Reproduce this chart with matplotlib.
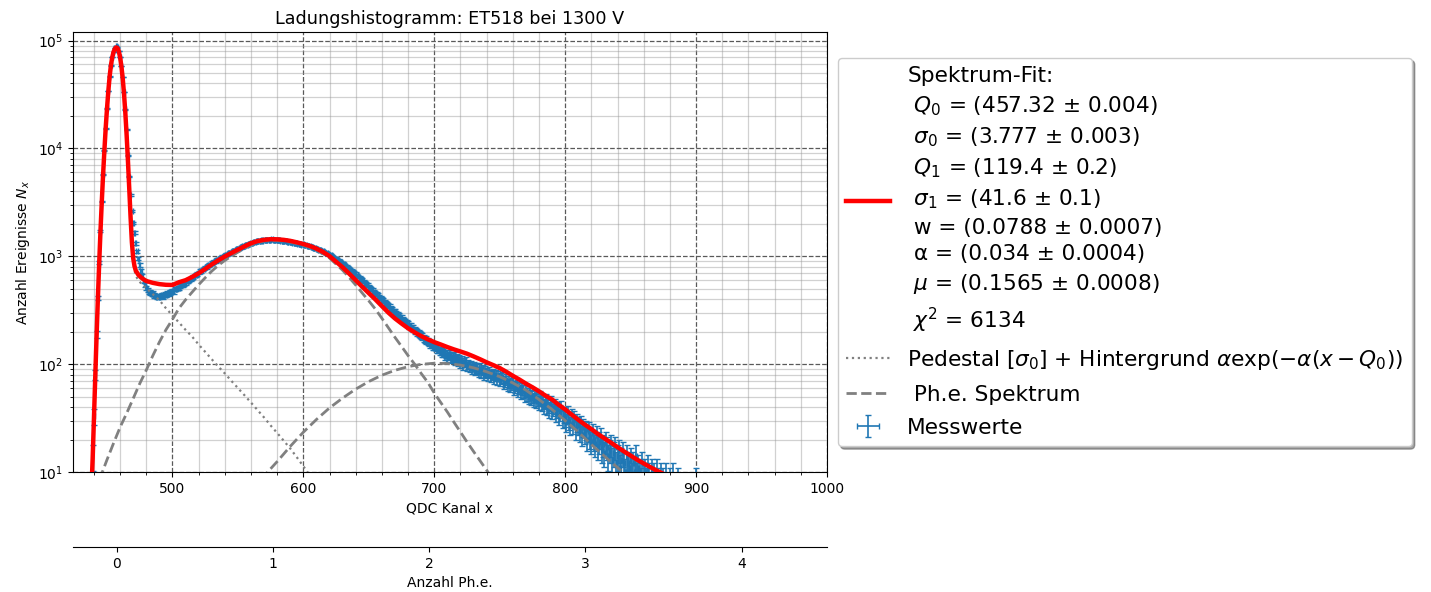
import matplotlib

matplotlib.use("Agg")
import matplotlib.pyplot as plt
import numpy as np
from matplotlib.ticker import MultipleLocator

OUT_PNG = "out.png"

# fit results used for the photo-electron axis
Q0 = 457.32
Q1 = 119.4

# measured histogram, one bin per QDC channel starting at FIRST_CHANNEL
FIRST_CHANNEL = 438
COUNTS = [
    5, 14, 33, 80, 190, 410, 870, 1720, 3230, 5750,
    9650, 15400, 23600, 34100, 46300, 58900, 70100, 78800, 85500, 88400,
    86300, 79800, 70600, 58400, 45700, 33500, 23100, 14900, 8600, 5450,
    3720, 2610, 2040, 1660, 1320, 1110, 945, 832, 728, 655,
    590, 548, 512, 488, 470, 461, 447, 452, 433, 428,
    420, 431, 418, 427, 436, 425, 441, 437, 452, 448,
    463, 470, 478, 472, 495, 501, 510, 506, 528, 540,
    548, 556, 571, 584, 590, 607, 619, 632, 641, 662,
    670, 688, 705, 734, 731, 752, 768, 790, 795, 818,
    832, 841, 866, 872, 897, 905, 931, 942, 950, 973,
    990, 1001, 1012, 1036, 1040, 1068, 1082, 1097, 1109, 1131,
    1140, 1163, 1175, 1190, 1212, 1220, 1241, 1255, 1262, 1286,
    1295, 1311, 1328, 1334, 1350, 1361, 1372, 1379, 1392, 1388,
    1405, 1397, 1416, 1421, 1412, 1430, 1419, 1426, 1433, 1415,
    1424, 1407, 1418, 1402, 1409, 1396, 1391, 1388, 1372, 1381,
    1366, 1358, 1361, 1345, 1340, 1329, 1334, 1318, 1305, 1311,
    1293, 1286, 1290, 1271, 1262, 1255, 1248, 1236, 1228, 1210,
    1203, 1190, 1178, 1169, 1151, 1140, 1127, 1108, 1095, 1082,
    1064, 1051, 1030, 1017, 1001, 985, 962, 948, 929, 915,
    893, 877, 856, 841, 822, 801, 787, 765, 752, 731,
    716, 697, 684, 664, 651, 628, 617, 601, 584, 570,
    553, 540, 521, 510, 497, 481, 470, 455, 446, 432,
    420, 412, 398, 389, 376, 366, 358, 347, 339, 327,
    321, 310, 304, 296, 287, 279, 272, 268, 259, 253,
    246, 240, 236, 228, 224, 217, 214, 206, 203, 197,
    192, 189, 183, 180, 174, 171, 168, 162, 160, 155,
    153, 148, 147, 143, 140, 138, 134, 133, 129, 127,
    121, 125, 116, 119, 123, 112, 115, 118, 109, 113,
    106, 111, 103, 108, 99, 104, 107, 96, 100, 94,
    98, 91, 96, 88, 93, 90, 85, 92, 84, 88,
    81, 86, 83, 79, 85, 77, 80, 82, 74, 79,
    73, 78, 71, 74, 76, 67, 70, 72, 65, 69,
    63, 66, 68, 60, 62, 64, 57, 61, 55, 59,
    56, 52, 57, 53, 50, 55, 49, 51, 47, 52,
    46, 48, 44, 49, 43, 45, 41, 46, 40, 42,
    38, 44, 37, 39, 41, 35, 38, 33, 36, 39,
    31, 34, 32, 29, 35, 30, 27, 33, 28, 31,
    25, 29, 27, 24, 28, 22, 26, 23, 25, 20,
    24, 21, 19, 23, 20, 18, 22, 17, 19, 21,
    16, 18, 15, 19, 17, 14, 16, 18, 13, 15,
    17, 12, 14, 16, 11, 13, 15, 12, 10, 14,
    12, 11, 13, 9, 12, 10, 14, 9, 11, 10,
    8, 12, 9, 10, 8, 11, 9, 7, 10, 8,
    9, 7, 10, 8, 6, 9, 7, 8, 6, 9,
    7, 5, 8, 6, 9, 5, 7, 6, 8, 5,
    7, 4, 6, 5, 7, 4, 5, 6, 3, 5,
    4, 6, 8, 4, 5, 3,
]

# full spectrum fit
FIT_X = list(range(437, 473)) + [474, 476, 478] + list(range(480, 890, 5))
FIT_Y = [
    4, 6.5, 13, 31, 75, 178, 400, 850, 1700, 3200,
    5700, 9600, 15500, 23500, 34000, 46500, 59000, 70000, 78500, 84000,
    86500, 85200, 79500, 70000, 57500, 44500, 32000, 21300, 13200, 7600,
    4200, 2300, 1350, 960, 810, 735,
    672, 637, 610,
    590, 567, 552, 544, 542,
    575, 600, 643, 696, 763, 840, 918, 997, 1072, 1153,
    1237, 1322, 1384, 1422, 1440, 1436, 1420, 1390, 1347, 1300,
    1246, 1178, 1097, 1003, 890, 790, 690, 600, 521, 455,
    398, 345, 300, 265, 238, 215, 197, 182, 170, 160,
    152, 144, 137, 131, 125, 118, 111, 104, 98, 92,
    85, 78, 72, 66, 61, 56, 51, 47, 42, 38,
    34, 30.5, 27.5, 25, 22.5, 20.5, 18.7, 17, 15.5, 14.2,
    13, 12, 11.1, 10.3, 9.6, 8.9, 8.3,
]

# pedestal gaussian plus exponential background
PED_X = list(range(437, 473)) + [474, 476, 478] + list(range(480, 615, 5))
PED_Y = [
    4, 6.5, 13, 31, 75, 178, 400, 850, 1700, 3200,
    5700, 9600, 15500, 23500, 34000, 46500, 59000, 70000, 78500, 84000,
    86500, 85200, 79500, 70000, 57500, 44500, 32000, 21300, 13200, 7560,
    4150, 2250, 1290, 900, 740, 660,
    595, 562, 533,
    505, 445, 392, 330, 283, 243, 208, 180, 152, 130,
    111, 95, 82, 70, 60, 51.5, 44, 37.5, 32, 27,
    23, 19.5, 16.5, 13.7, 11.3, 9.3, 7.7,
]

# single and double photo-electron peaks
PE1_X = list(range(440, 760, 5))
PE1_Y = [
    6.3, 9, 13, 18.5, 26, 35, 48, 66, 88, 120,
    160, 208, 260, 330, 395, 465, 545, 632, 728, 823,
    915, 1002, 1093, 1186, 1274, 1340, 1384, 1405, 1400, 1385,
    1355, 1312, 1265, 1210, 1140, 1060, 962, 846, 742, 636,
    541, 456, 386, 324, 266, 217, 177, 146, 120, 100,
    82, 68, 54, 44, 36, 29, 23.5, 19, 15.5, 12.7,
    10.4, 8.5, 7, 5.7,
]
PE2_X = list(range(560, 870, 10))
PE2_Y = [
    6.7, 9.2, 12.5, 17.3, 23.4, 30.7, 39.3, 48.5, 58.7, 69,
    79, 87.7, 94.8, 99.6, 102, 101.3, 98, 92.5, 85, 76.5,
    67, 57.5, 47, 38, 30, 23.5, 18, 14, 11, 8.5,
    6.5,
]

PHE_TICKS = [0, 1, 2, 3, 4]

FIT_LABEL = (
    "Spektrum-Fit:\n"
    " $Q_0$ = (457.32 ± 0.004)\n"
    " $\\sigma_0$ = (3.777 ± 0.003)\n"
    " $Q_1$ = (119.4 ± 0.2)\n"
    " $\\sigma_1$ = (41.6 ± 0.1)\n"
    " w = (0.0788 ± 0.0007)\n"
    " α = (0.034 ± 0.0004)\n"
    " $\\mu$ = (0.1565 ± 0.0008)\n"
    " $\\chi^2$ = 6134"
)
PED_LABEL = "Pedestal [$\\sigma_0$] + Hintergrund $\\alpha \\exp(-\\alpha(x-Q_0))$"
PE_LABEL = " Ph.e. Spektrum"


def channel_to_phe(x):
    return (np.asarray(x) - Q0) / Q1


def phe_to_channel(n):
    return np.asarray(n) * Q1 + Q0


def build_histogram_plot() -> None:
    fig = plt.figure(figsize=(14.31, 5.92), dpi=100)
    ax = fig.add_axes([0.051, 0.2027, 0.5269, 0.7432])

    counts = np.array(COUNTS, dtype=float)
    channels = FIRST_CHANNEL + np.arange(len(counts))
    ax.errorbar(
        channels,
        counts,
        yerr=np.sqrt(counts),
        xerr=0.5,
        fmt="none",
        ecolor="tab:blue",
        elinewidth=1.2,
        capsize=2,
        label="Messwerte",
        zorder=2,
    )

    ax.plot(FIT_X, FIT_Y, color="red", linewidth=3.2, label=FIT_LABEL, zorder=4)
    ax.plot(PED_X, PED_Y, ":", color="gray", linewidth=1.6, label=PED_LABEL, zorder=3)
    ax.plot(PE1_X, PE1_Y, "--", color="gray", linewidth=2, label=PE_LABEL, zorder=3)
    ax.plot(PE2_X, PE2_Y, "--", color="gray", linewidth=2, zorder=3)

    ax.set_yscale("log")
    ax.set_xlim(424, 1000)
    ax.set_ylim(10, 1.2e5)
    ax.xaxis.set_minor_locator(MultipleLocator(20))
    ax.grid(which="major", linestyle="--", color="0.35", linewidth=0.9)
    ax.grid(which="minor", linestyle="-", color="0.6", linewidth=0.9, alpha=0.45)

    ax.set_title("Ladungshistogramm: ET518 bei 1300 V", fontsize=12.7)
    ax.set_xlabel("QDC Kanal x")
    ax.set_ylabel("Anzahl Ereignisse $N_x$")

    secax = ax.secondary_xaxis(-0.17, functions=(channel_to_phe, phe_to_channel))
    secax.set_xticks(PHE_TICKS)
    secax.set_xlabel("Anzahl Ph.e.")

    leg = ax.legend(
        loc="center left",
        bbox_to_anchor=(1.0, 0.5),
        fontsize=15.6,
        shadow=True,
        labelspacing=0.6,
    )
    for text in leg.get_texts():
        text.set_linespacing(1.42)

    fig.savefig(OUT_PNG, dpi=100)
    plt.close(fig)


def main() -> None:
    build_histogram_plot()


if __name__ == "__main__":
    main()
